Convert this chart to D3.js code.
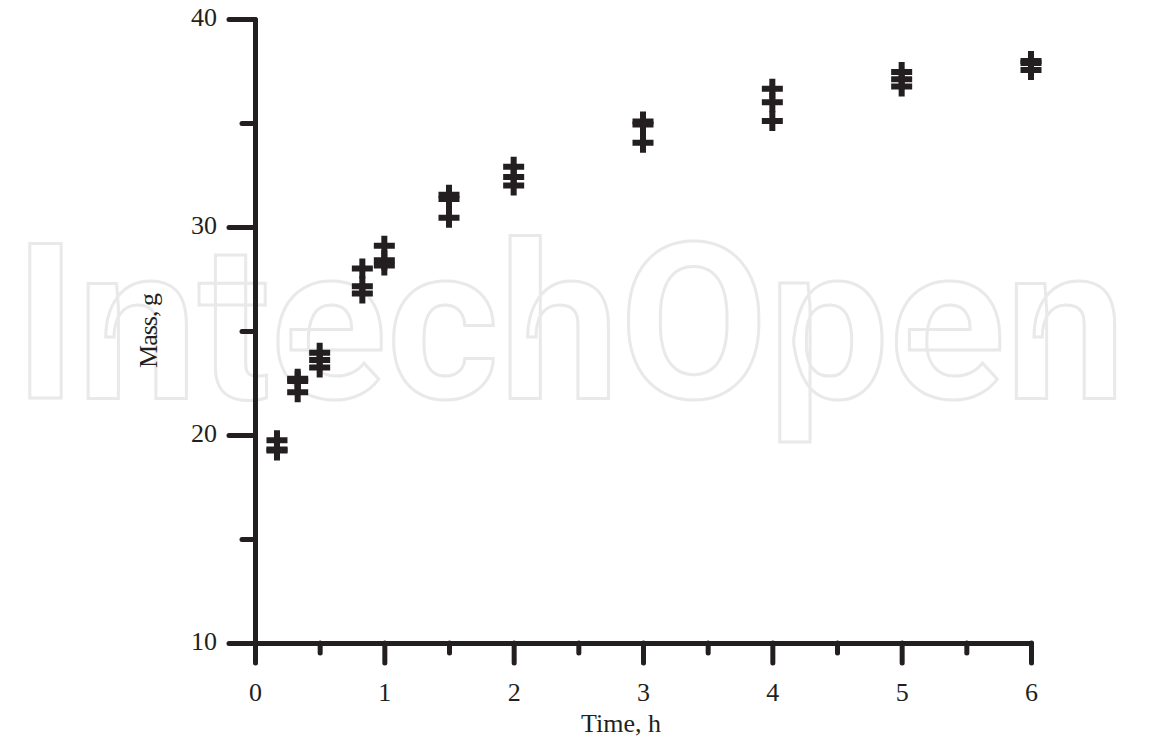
<!DOCTYPE html>
<html>
<head>
<meta charset="utf-8">
<script src="https://cdn.jsdelivr.net/npm/d3@7"></script>
<style>
  body { margin: 0; background: #fff; }
  svg { display: block; }
  .axis text { font-family: "Liberation Serif", "DejaVu Serif", serif; font-size: 26px; fill: #231f20; }
  .axis line, .axis path { stroke: #231f20; stroke-width: 5; stroke-linecap: round; }
</style>
</head>
<body>
<svg></svg>
<script>
// sampling times (h) and three replicate masses (g)
var times = [0.17, 0.33, 0.5, 0.83, 1, 1.5, 2, 3, 4, 5, 6];
var massA = [19.75, 22.7, 23.95, 28.0, 29.1, 31.55, 32.9, 35.07, 36.65, 37.45, 37.98];
var massB = [19.3, 22.6, 23.6, 27.15, 28.4, 31.35, 32.4, 34.93, 36.0, 37.1, 37.88];
var massC = [19.25, 22.05, 23.25, 26.8, 28.15, 30.45, 32.0, 34.05, 35.1, 36.75, 37.55];

var xMajor = [0, 1, 2, 3, 4, 5, 6],
    xMinor = [0.5, 1.5, 2.5, 3.5, 4.5, 5.5],
    yMajor = [10, 20, 30, 40],
    yMinor = [15, 25, 35];

var width = 1151,
    height = 743;

var svg = d3.select("svg")
  .attr("width", width)
  .attr("height", height);

var x = d3.scaleLinear().domain([0, 6]).range([255, 1031]);
var y = d3.scaleLinear().domain([10, 40]).range([643, 19]);

// faint watermark
svg.append("text")
  .attr("x", 14)
  .attr("y", 398)
  .attr("textLength", 1112)
  .attr("lengthAdjust", "spacingAndGlyphs")
  .style("font-family", "Roboto, sans-serif")
  .style("font-weight", 700)
  .style("font-size", "218px")
  .style("fill", "none")
  .style("stroke", "#e9e9e9")
  .style("stroke-width", 3)
  .text("IntechOpen");

// minor ticks
svg.append("g")
    .attr("class", "axis")
    .attr("transform", "translate(0," + y(10) + ")")
    .call(d3.axisBottom(x).tickValues(xMinor).tickSize(10).tickSizeOuter(0).tickFormat(""))
  .select(".domain").remove();

svg.append("g")
    .attr("class", "axis")
    .attr("transform", "translate(" + x(0) + ",0)")
    .call(d3.axisLeft(y).tickValues(yMinor).tickSize(13).tickSizeOuter(0).tickFormat(""))
  .select(".domain").remove();

// major axes
var xAxis = svg.append("g")
    .attr("class", "axis")
    .attr("transform", "translate(0," + y(10) + ")")
    .call(d3.axisBottom(x).tickValues(xMajor).tickFormat(d3.format("d"))
      .tickSize(20).tickSizeOuter(0).tickPadding(19));

var yAxis = svg.append("g")
    .attr("class", "axis")
    .attr("transform", "translate(" + x(0) + ",0)")
    .call(d3.axisLeft(y).tickValues(yMajor).tickFormat(d3.format("d"))
      .tickSize(26).tickSizeOuter(0).tickPadding(12));

xAxis.selectAll("text").attr("dy", "0.72em");
yAxis.selectAll("text").attr("dy", "0.25em");

// axis titles
svg.append("text")
  .attr("x", 621)
  .attr("y", 732)
  .attr("text-anchor", "middle")
  .style("font-family", "Liberation Serif, serif")
  .style("font-size", "26px")
  .style("fill", "#231f20")
  .text("Time, h");

svg.append("text")
  .attr("transform", "translate(157,331) rotate(-90)")
  .attr("text-anchor", "middle")
  .style("font-family", "Liberation Serif, serif")
  .style("font-size", "26px")
  .style("letter-spacing", "-1px")
  .style("fill", "#231f20")
  .text("Mass, g");

// plus markers
var points = [];
[massA, massB, massC].forEach(function(series) {
  series.forEach(function(m, i) { points.push({ t: times[i], m: m }); });
});

svg.append("g")
    .attr("class", "points")
  .selectAll("path")
  .data(points)
  .enter().append("path")
    .attr("transform", function(d) { return "translate(" + x(d.t) + "," + y(d.m) + ")"; })
    .attr("d", "M-10.5,0H10.5M0,-10V10")
    .style("fill", "none")
    .style("stroke", "#231f20")
    .style("stroke-width", 6);
</script>
</body>
</html>
